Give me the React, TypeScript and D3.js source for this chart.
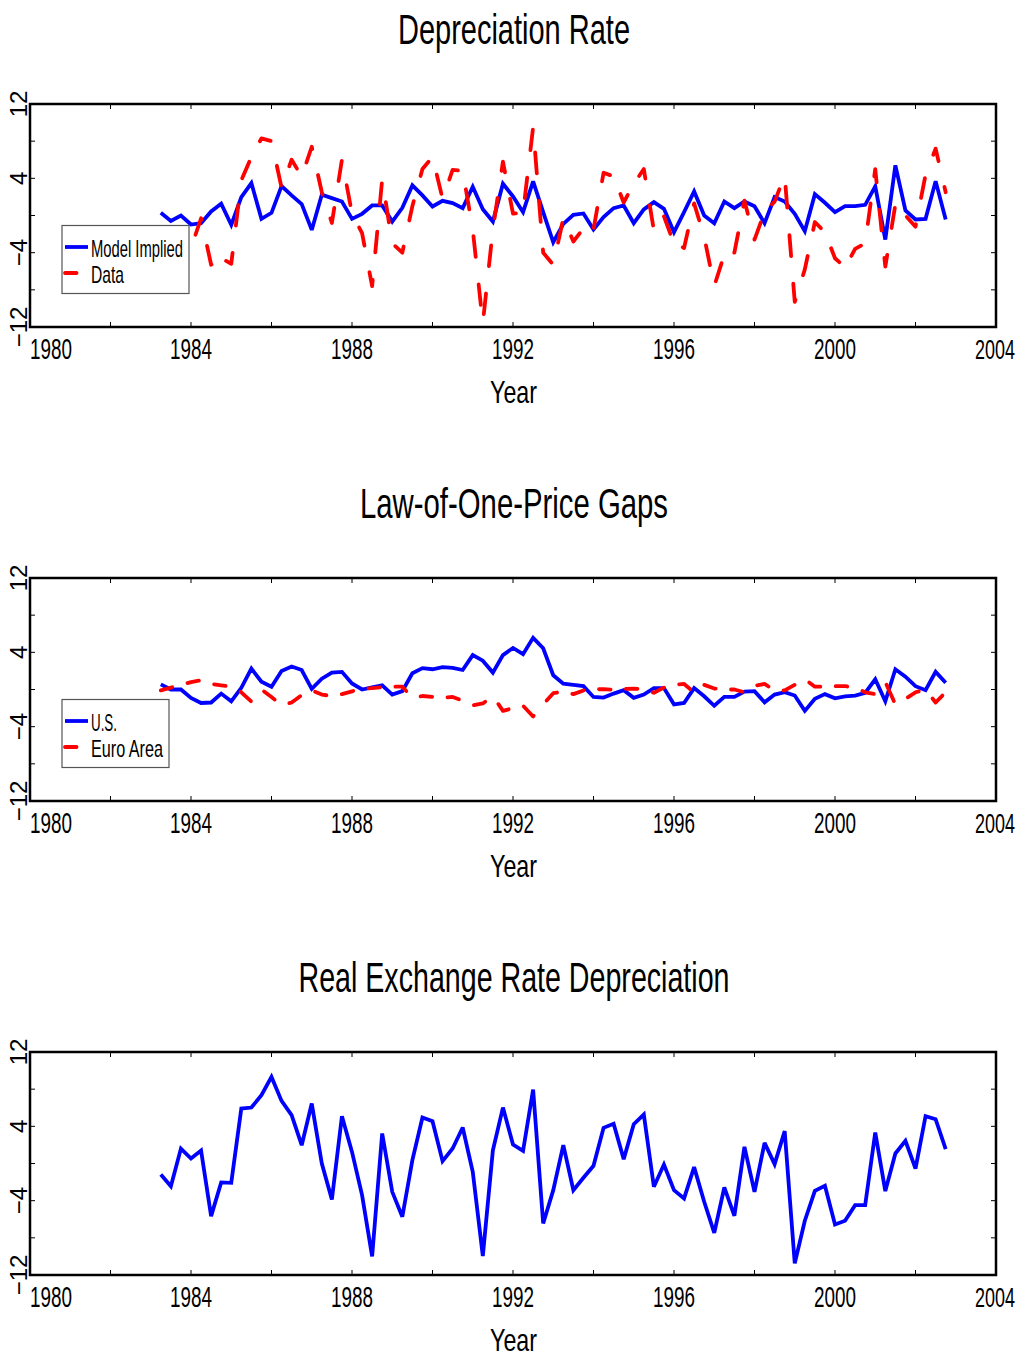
import React, { useRef, useEffect } from 'react';
import * as d3 from 'd3';

// quarterly observations, 1983Q2 .. 2002Q4
const firstQuarter = 1983.25;

const modelImplied = [
  0.29, -0.58, 0.0, -0.97, -0.83, 0.43, 1.26, -1.0, 1.98, 3.49,
  -0.36, 0.29, 3.17, 2.16, 1.22, -1.55, 2.23, 1.87, 1.51, -0.36,
  0.18, 1.08, 1.08, -0.65, 0.83, 3.24, 2.16, 0.97, 1.58, 1.33,
  0.79, 3.1, 0.68, -0.65, 3.42, 2.05, 0.36, 3.67, 0.36, -2.88,
  -0.9, 0.07, 0.22, -1.51, -0.18, 0.79, 1.08, -0.83, 0.65, 1.44,
  0.72, -1.8, 0.36, 2.59, 0.0, -0.83, 1.51, 0.79, 1.51, 1.0,
  -0.83, 1.98, 1.51, 0.18, -1.69, 2.3, 1.37, 0.36, 1.0, 1.0,
  1.15, 3.13, -2.59, 5.4, 0.54, -0.43, -0.36, 3.7, -0.43
];

const depreciationData = [
  -4.0, -2.5, -5.5, -3.5, -0.3, -5.3, -4.6, -5.2, 3.8, 6.3,
  8.3, 8.0, 3.0, 6.0, 4.2, 7.4, 2.5, -0.8, 6.0, 0.2,
  -1.9, -7.6, 3.9, -3.0, -4.0, 1.0, 5.0, 6.3, 1.8, 4.9,
  4.8, -1.5, -11.6, -1.5, 5.8, 0.2, 0.3, 9.5, -4.0, -5.3,
  -0.3, -2.8, -1.4, -1.5, 4.6, 4.2, 1.4, 3.4, 5.0, -1.6,
  -0.1, -3.0, -3.5, 1.3, -2.3, -7.6, -4.2, -4.0, 1.6, -2.6,
  0.4, 1.5, 4.3, -9.3, -5.8, -0.7, -1.8, -4.6, -5.6, -3.6,
  -3.0, 5.0, -5.5, 1.2, 0.0, -1.2, 4.4, 7.2, 2.5
];

const usGap = [
  0.55, 0.0, 0.0, -0.9, -1.45, -1.4, -0.44, -1.27, 0.18, 2.25,
  0.84, 0.3, 2.0, 2.47, 2.1, 0.07, 1.16, 1.82, 1.9, 0.65,
  0.0, 0.22, 0.44, -0.55, -0.18, 1.75, 2.3, 2.18, 2.4, 2.33,
  2.1, 3.7, 3.1, 1.82, 3.7, 4.47, 3.8, 5.56, 4.44, 1.53,
  0.62, 0.5, 0.36, -0.8, -0.87, -0.44, -0.07, -0.9, -0.55, 0.15,
  0.15, -1.6, -1.45, 0.15, -0.73, -1.75, -0.8, -0.8, -0.22, -0.18,
  -1.38, -0.55, -0.29, -0.65, -2.3, -1.0, -0.5, -0.95, -0.73, -0.65,
  -0.36, 1.1, -1.27, 2.18, 1.38, 0.36, -0.07, 1.9, 0.73
];

const euroGap = [
  -0.1, 0.2, 0.5, 0.8, 1.0, 0.6, 0.45, 0.3, -0.3, -1.3,
  0.0, -0.8, -1.7, -1.4, -0.6, -0.1, -0.55, -0.7, -0.5, -0.2,
  0.1, 0.15, 0.25, 0.3, 0.3, -0.9, -0.7, -0.8, -0.9, -0.8,
  -1.2, -1.7, -1.5, -0.7, -2.3, -2.0, -1.75, -2.9, -1.6, -0.4,
  -0.2, -0.5, -0.1, 0.0, 0.05, -0.05, 0.05, 0.1, 0.0, -0.35,
  0.2, 0.5, 0.6, -0.3, 0.5, 0.1, 0.0, 0.0, -0.3, 0.4,
  0.6, -0.1, -0.1, 0.5, 1.1, 0.3, 0.3, 0.36, 0.36, 0.2,
  -0.3, -0.5, 0.8, -1.6, -1.0, -0.3, 0.0, -1.4, -0.3
];

const rerDepreciation = [
  -1.18, -2.44, 1.61, 0.54, 1.4, -5.66, -2.04, -2.08, 5.91, 6.02,
  7.35, 9.32, 6.74, 5.2, 1.97, 6.45, 0.0, -3.87, 5.09, 1.25,
  -3.4, -10.0, 3.23, -3.05, -5.73, 0.36, 4.95, 4.55, 0.25, 1.61,
  3.87, -0.9, -9.96, 1.43, 6.02, 2.04, 1.36, 7.96, -6.45, -2.87,
  1.97, -2.87, -1.54, -0.25, 3.84, 4.27, 0.47, 4.23, 5.27, -2.51,
  -0.11, -2.87, -3.76, -0.39, -4.12, -7.46, -2.58, -5.63, 1.79, -3.05,
  2.22, -0.07, 3.48, -10.75, -6.16, -2.94, -2.4, -6.56, -6.16, -4.48,
  -4.48, 3.33, -2.97, 1.08, 2.44, -0.54, 5.09, 4.77, 1.54
];

const xTickYears = [1980, 1982, 1984, 1986, 1988, 1990, 1992, 1994, 1996, 1998, 2000, 2002, 2004];
const xLabelYears = [1980, 1984, 1988, 1992, 1996, 2000, 2004];
const yTicks = [-12, -8, -4, 0, 4, 8, 12];
const yLabels = [-12, -4, 4, 12];

const BLUE = '#0000ff';
const RED = '#ff0000';
const FONT = "'Liberation Sans Narrow', 'Liberation Sans', Arial, sans-serif";

// the figure is squeezed horizontally, so dash lengths are measured with x stretched back
const SQUEEZE = 0.55;

const dashPieces = (pts, on, off) => {
  const pieces = [];
  let cur = [pts[0]];
  let drawing = true;
  let left = on;
  for (let k = 1; k < pts.length; k++) {
    const [x0, y0] = pts[k - 1];
    const [x1, y1] = pts[k];
    const len = Math.hypot((x1 - x0) / SQUEEZE, y1 - y0);
    let t = 0;
    while (len - t > left) {
      t += left;
      const p = [x0 + (x1 - x0) * t / len, y0 + (y1 - y0) * t / len];
      if (drawing) { cur.push(p); pieces.push(cur); }
      else cur = [p];
      drawing = !drawing;
      left = drawing ? on : off;
    }
    left -= len - t;
    if (drawing) cur.push([x1, y1]);
  }
  if (drawing && cur.length > 1) pieces.push(cur);
  return pieces;
};

const panels = [
  {
    top: 104, title: 'Depreciation Rate', titleWidth: 232,
    series: [
      { values: modelImplied, color: BLUE, dashed: false, label: 'Model Implied', labelWidth: 92 },
      { values: depreciationData, color: RED, dashed: true, label: 'Data', labelWidth: 33 },
    ],
    legendWidth: 127,
  },
  {
    top: 578, title: 'Law-of-One-Price Gaps', titleWidth: 308,
    series: [
      { values: usGap, color: BLUE, dashed: false, label: 'U.S.', labelWidth: 26 },
      { values: euroGap, color: RED, dashed: true, label: 'Euro Area', labelWidth: 72 },
    ],
    legendWidth: 107,
  },
  {
    top: 1052, title: 'Real Exchange Rate Depreciation', titleWidth: 431,
    series: [
      { values: rerDepreciation, color: BLUE, dashed: false },
    ],
    legendWidth: 0,
  },
];

const App = () => {
  const ref = useRef(null);

  useEffect(() => {
    const svg = d3.select(ref.current);
    svg.selectAll('*').remove();

    const left = 30, right = 996, plotH = 223;
    const x = d3.scaleLinear().domain([1980, 2004]).range([left, right]);
    const line = d3.line();

    panels.forEach(panel => {
      const top = panel.top, bottom = top + plotH;
      const y = d3.scaleLinear().domain([-12, 12]).range([bottom, top]);
      const g = svg.append('g');

      // title
      g.append('text')
        .attr('x', 514).attr('y', top - 60)
        .attr('text-anchor', 'middle')
        .attr('font-family', FONT).attr('font-size', 42)
        .attr('textLength', panel.titleWidth).attr('lengthAdjust', 'spacingAndGlyphs')
        .text(panel.title);

      // series
      panel.series.forEach(s => {
        const pts = s.values.map((v, i) => [x(firstQuarter + i * 0.25), y(v)]);
        if (s.dashed) {
          dashPieces(pts, 21, 28).forEach(piece => {
            g.append('path')
              .attr('d', line(piece))
              .attr('fill', 'none')
              .attr('stroke', s.color)
              .attr('stroke-width', 3.8)
              .attr('stroke-linecap', 'round')
              .attr('stroke-linejoin', 'round');
          });
        } else {
          g.append('path')
            .attr('d', line(pts))
            .attr('fill', 'none')
            .attr('stroke', s.color)
            .attr('stroke-width', 3.8)
            .attr('stroke-linejoin', 'miter')
            .attr('stroke-miterlimit', 3);
        }
      });

      // inward ticks on all four sides
      const tickLines = g.append('g').attr('stroke', '#000').attr('stroke-width', 1);
      xTickYears.forEach(yr => {
        tickLines.append('line').attr('x1', x(yr)).attr('x2', x(yr)).attr('y1', bottom).attr('y2', bottom - 5);
        tickLines.append('line').attr('x1', x(yr)).attr('x2', x(yr)).attr('y1', top).attr('y2', top + 5);
      });
      yTicks.forEach(v => {
        tickLines.append('line').attr('x1', left).attr('x2', left + 5).attr('y1', y(v)).attr('y2', y(v));
        tickLines.append('line').attr('x1', right).attr('x2', right - 5).attr('y1', y(v)).attr('y2', y(v));
      });

      // frame
      g.append('rect')
        .attr('x', left).attr('y', top)
        .attr('width', right - left).attr('height', plotH)
        .attr('fill', 'none').attr('stroke', '#000').attr('stroke-width', 2.5);

      // x tick labels (first sits right of its tick, last ends near the page edge)
      xLabelYears.forEach(yr => {
        const first = yr === 1980;
        const last = yr === 2004;
        g.append('text')
          .attr('x', first ? x(yr) : last ? x(yr) + 19 : x(yr))
          .attr('y', bottom + 32)
          .attr('text-anchor', first ? 'start' : last ? 'end' : 'middle')
          .attr('font-family', FONT).attr('font-size', last ? 28 : 30)
          .attr('textLength', last ? 40 : 42).attr('lengthAdjust', 'spacingAndGlyphs')
          .text(yr);
      });

      // y tick labels, rotated
      yLabels.forEach(v => {
        g.append('text')
          .attr('transform', `translate(27,${y(v)}) rotate(-90)`)
          .attr('text-anchor', 'middle')
          .attr('font-family', FONT).attr('font-size', 24)
          .text(v < 0 ? `\u2212${Math.abs(v)}` : `${v}`);
      });

      // x axis label
      g.append('text')
        .attr('x', 513.5).attr('y', bottom + 76)
        .attr('text-anchor', 'middle')
        .attr('font-family', FONT).attr('font-size', 32)
        .attr('textLength', 47).attr('lengthAdjust', 'spacingAndGlyphs')
        .text('Year');

      // legend
      if (panel.legendWidth > 0) {
        const lg = g.append('g');
        lg.append('rect')
          .attr('x', 62).attr('y', top + 121.5)
          .attr('width', panel.legendWidth).attr('height', 68)
          .attr('fill', '#fff').attr('stroke', '#555').attr('stroke-width', 1.2);
        panel.series.forEach((s, k) => {
          const ly = top + 143 + k * 26;
          const sample = [[65, ly], [88, ly]];
          const pieces = s.dashed ? dashPieces(sample, 21, 28) : [sample];
          pieces.forEach(piece => {
            lg.append('path')
              .attr('d', line(piece))
              .attr('stroke', s.color)
              .attr('stroke-width', 3.8)
              .attr('stroke-linecap', s.dashed ? 'round' : 'butt');
          });
          lg.append('text')
            .attr('x', 91).attr('y', ly + 9.5)
            .attr('font-family', FONT).attr('font-size', 24)
            .attr('textLength', s.labelWidth).attr('lengthAdjust', 'spacingAndGlyphs')
            .text(s.label);
        });
      }
    });
  }, []);

  return (
    <svg
      ref={ref}
      width={1025}
      height={1357}
      style={{ position: 'absolute', left: 0, top: 0, background: '#fff' }}
    />
  );
};

export default App;
